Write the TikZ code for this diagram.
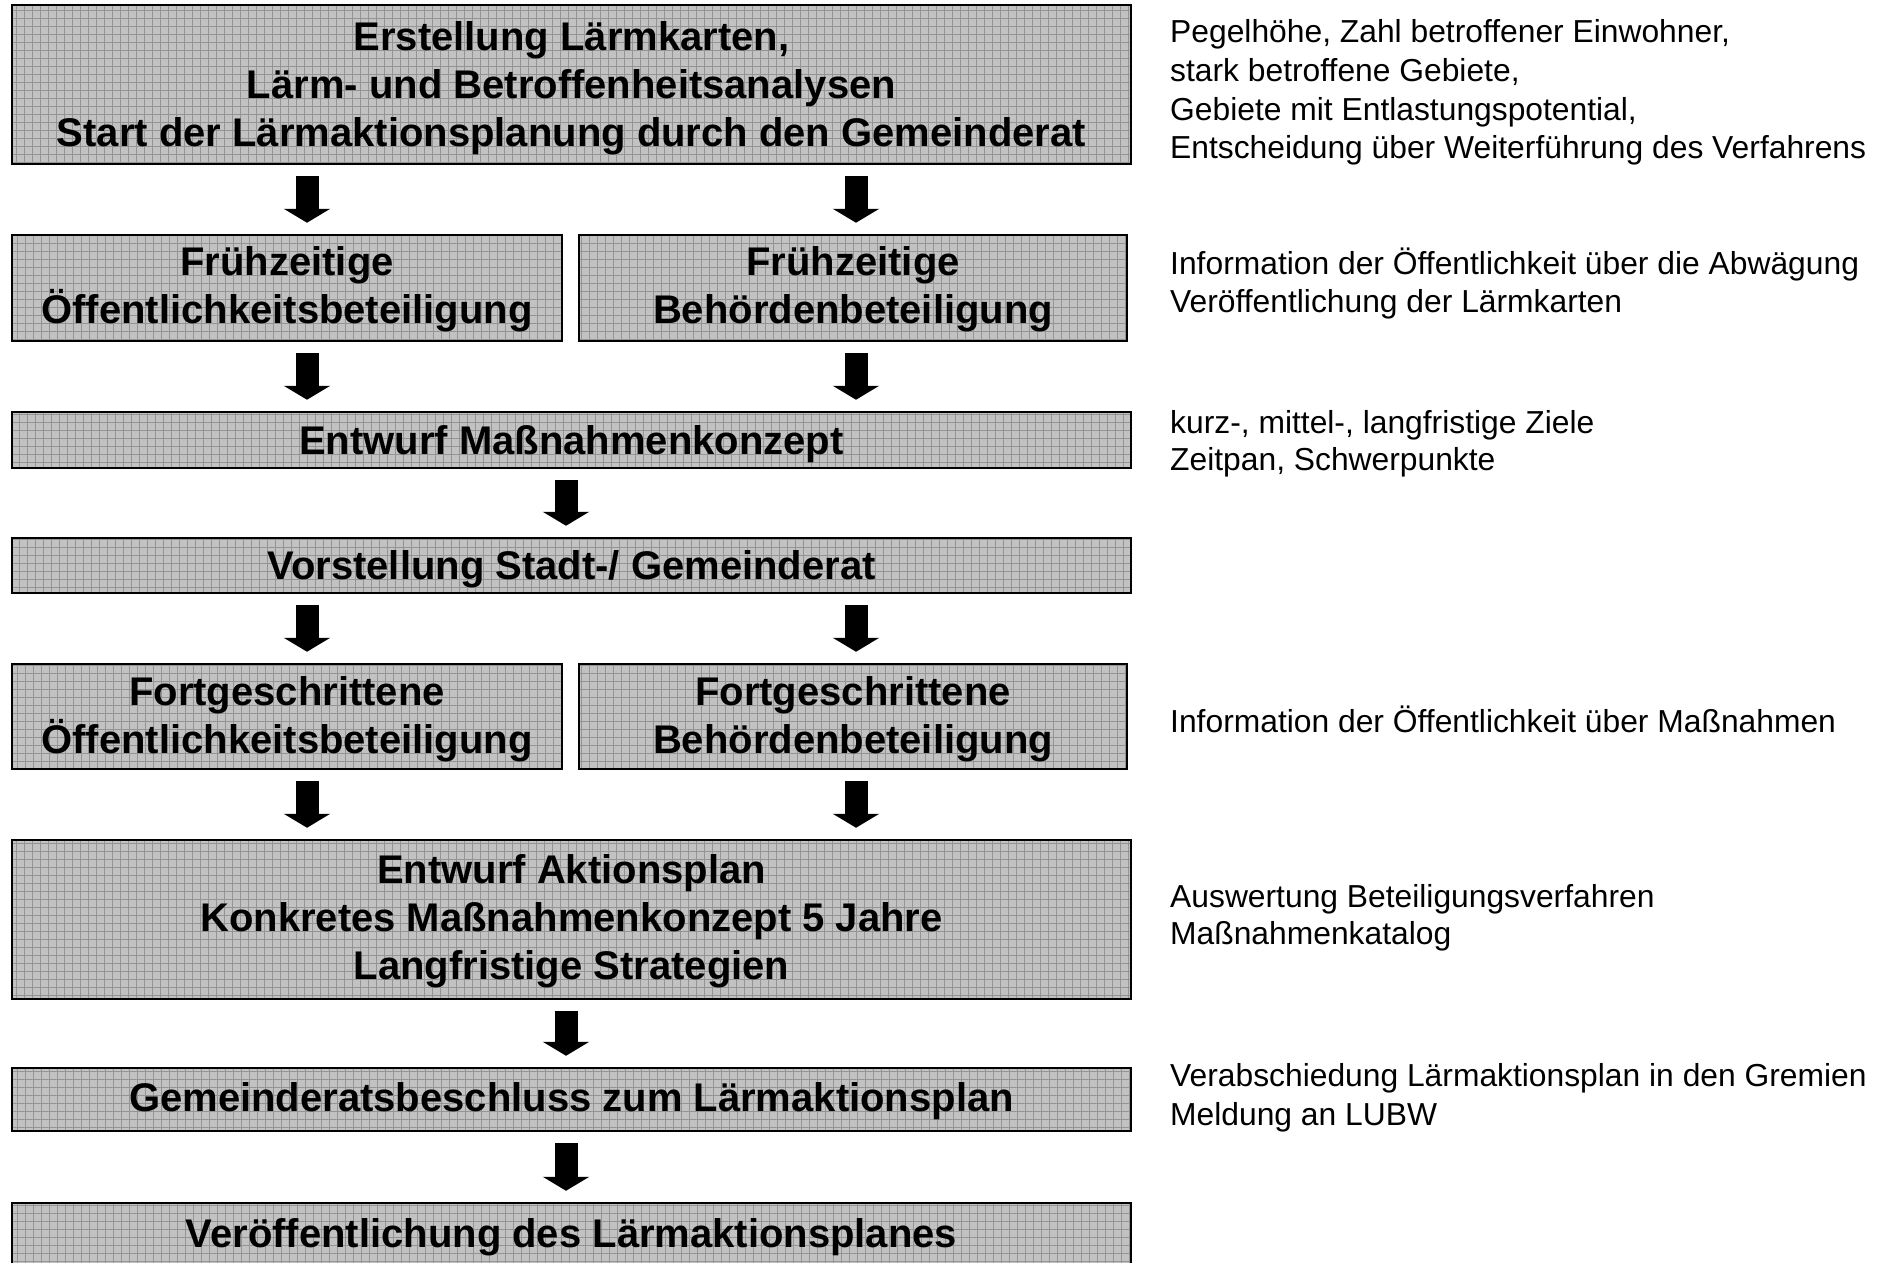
\documentclass[tikz,border=0pt]{standalone}
\usepackage{fontspec}
\setmainfont{Liberation Sans}
\usetikzlibrary{arrows.meta}
\definecolor{boxgray}{gray}{0.76}
\definecolor{gridgray}{gray}{0.58}
\tikzset{
  box/.style={draw=black, line width=2.5pt, fill=boxgray, inner sep=0pt, align=center,
    text depth=0pt,
    font=\fontsize{40}{48}\selectfont\bfseries,
    path picture={\draw[gridgray, line width=1pt]
      (path picture bounding box.south west) grid[step=8pt] (path picture bounding box.north east);}},
  note/.style={anchor=base west, inner sep=0pt, font=\fontsize{31.8}{38}\selectfont},
  blockarrow/.style={line width=23pt, -{Triangle[length=14pt,width=46pt]},
    shorten <=11pt, shorten >=11pt}
}
\begin{document}
\begin{tikzpicture}[x=1pt,y=-1pt]
\useasboundingbox[fill=white] (0,0) rectangle (1890,1263);
\clip (0,0) rectangle (1890,1263);
% boxes
\node[box, minimum width=1119pt, minimum height=159pt] (b1) at (571.5,84.5)
  {Erstellung Lärmkarten,\\ Lärm- und Betroffenheitsanalysen\\ Start der Lärmaktionsplanung durch den Gemeinderat};
\node[box, text depth=5pt, minimum width=550pt, minimum height=106pt] (b2a) at (287,288)
  {Frühzeitige\\ Öffentlichkeitsbeteiligung};
\node[box, text depth=5pt, minimum width=548pt, minimum height=106pt] (b2b) at (853,288)
  {Frühzeitige\\ Behördenbeteiligung};
\node[box, minimum width=1119pt, minimum height=56pt] (b3) at (571.5,440)
  {Entwurf Maßnahmenkonzept};
\node[box, minimum width=1119pt, minimum height=55pt] (b4) at (571.5,565.5)
  {Vorstellung Stadt-/ Gemeinderat};
\node[box, text depth=3pt, minimum width=550pt, minimum height=105pt] (b5a) at (287,716.5)
  {Fortgeschrittene\\ Öffentlichkeitsbeteiligung};
\node[box, text depth=3pt, minimum width=548pt, minimum height=105pt] (b5b) at (853,716.5)
  {Fortgeschrittene\\ Behördenbeteiligung};
\node[box, text depth=5pt, minimum width=1119pt, minimum height=159pt] (b6) at (571.5,919.5)
  {Entwurf Aktionsplan\\ Konkretes Maßnahmenkonzept 5 Jahre\\ Langfristige Strategien};
\node[box, text depth=5pt, minimum width=1119pt, minimum height=63pt] (b7) at (571.5,1099.5)
  {Gemeinderatsbeschluss zum Lärmaktionsplan};
\node[box, minimum width=1119pt, minimum height=90pt] (b8) at (571.5,1248)
  {\raisebox{29.5pt}{Veröffentlichung des Lärmaktionsplanes}};
% arrow columns
\coordinate (xl) at (307,0);
\coordinate (xr) at (856,0);
\coordinate (xm) at (566,0);
% arrows
\draw[blockarrow] (b1.south -| xl) -- (b2a.north -| xl);
\draw[blockarrow] (b1.south -| xr) -- (b2b.north -| xr);
\draw[blockarrow] (b2a.south -| xl) -- (b3.north -| xl);
\draw[blockarrow] (b2b.south -| xr) -- (b3.north -| xr);
\draw[blockarrow] (b3.south -| xm) -- (b4.north -| xm);
\draw[blockarrow] (b4.south -| xl) -- (b5a.north -| xl);
\draw[blockarrow] (b4.south -| xr) -- (b5b.north -| xr);
\draw[blockarrow] (b5a.south -| xl) -- (b6.north -| xl);
\draw[blockarrow] (b5b.south -| xr) -- (b6.north -| xr);
\draw[blockarrow] (b6.south -| xm) -- (b7.north -| xm);
\draw[blockarrow] (b7.south -| xm) -- (b8.north -| xm);
% notes
\node[note] (n1a) at (1170,43) {Pegelhöhe, Zahl betroffener Einwohner,};
\node[note] (n1b) at (1170,81.5) {stark betroffene Gebiete,};
\node[note] (n1c) at (1170,120) {Gebiete mit Entlastungspotential,};
\node[note] (n1d) at (1170,158) {Entscheidung über Weiterführung des Verfahrens};
\node[note] (n2a) at (1170,274) {Information der Öffentlichkeit über die Abwägung};
\node[note] (n2b) at (1170,312) {Veröffentlichung der Lärmkarten};
\node[note] (n3a) at (1170,433) {kurz-, mittel-, langfristige Ziele};
\node[note] (n3b) at (1170,470) {Zeitpan, Schwerpunkte};
\node[note] (n4) at (1170,732) {Information der Öffentlichkeit über Maßnahmen};
\node[note] (n5a) at (1170,907) {Auswertung Beteiligungsverfahren};
\node[note] (n5b) at (1170,944) {Maßnahmenkatalog};
\node[note] (n6a) at (1170,1086) {Verabschiedung Lärmaktionsplan in den Gremien};
\node[note] (n6b) at (1170,1125) {Meldung an LUBW};
\end{tikzpicture}
\end{document}
